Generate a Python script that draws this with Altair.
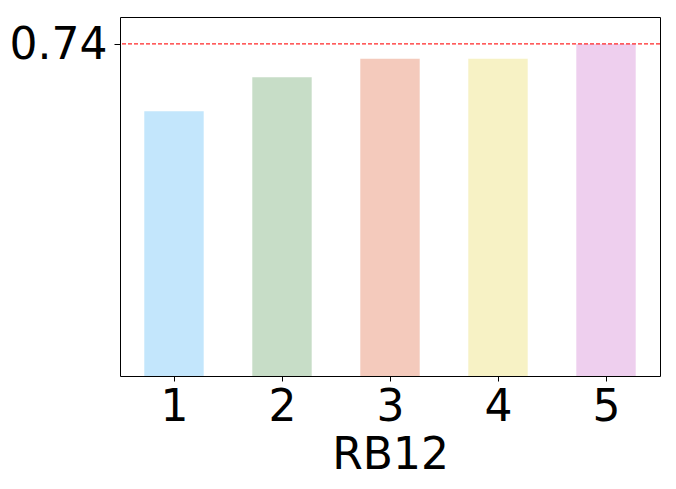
import altair as alt
import pandas as pd

categories = [1, 2, 3, 4, 5]
values = [0.590, 0.666, 0.707, 0.707, 0.740]
colors = ["#87CEFA", "#8FBC8F", "#E9967A", "#F0E68C", "#DDA0DD"]
ref_value = 0.74
bar_width = 0.55

df = pd.DataFrame({"cat": categories, "val": values, "color": colors})
ref_df = pd.DataFrame({"ref": [ref_value]})

FONT = "DejaVu Sans"
FS = 44

xscale = alt.Scale(domain=[0.5, 5.5], nice=False, zero=False)
yscale = alt.Scale(domain=[0, 0.8], nice=False)

bars = alt.Chart(df).transform_calculate(
    x_lo=f"datum.cat - {bar_width/2}",
    x_hi=f"datum.cat + {bar_width/2}",
).mark_bar(opacity=0.5).encode(
    x=alt.X("x_lo:Q", scale=xscale,
            axis=alt.Axis(title="RB12", values=categories, format="d",
                          labelFontSize=FS, titleFontSize=FS,
                          labelFont=FONT, titleFont=FONT,
                          labelColor="black", titleColor="black",
                          titleFontWeight="normal",
                          tickColor="black", tickSize=5, tickWidth=1,
                          domain=False, grid=False, labelPadding=4,
                          titlePadding=4)),
    x2="x_hi:Q",
    y=alt.Y("val:Q", scale=yscale,
            axis=alt.Axis(title=None, values=[ref_value], format=".2f",
                          labelFontSize=FS, labelFont=FONT, labelColor="black",
                          tickColor="black", tickSize=6, tickWidth=1,
                          domain=False, grid=False, labelPadding=7,
                          labelOffset=2)),
    y2=alt.datum(0),
    fill=alt.Fill("color:N", scale=None),
)

rule = alt.Chart(ref_df).mark_rule(color="red", strokeDash=[4, 2], strokeWidth=1.2, opacity=0.85).encode(
    y=alt.Y("ref:Q", scale=yscale)
)

chart = alt.layer(bars, rule).properties(
    width=540,
    height=359,
    autosize=alt.AutoSizeParams(type="none"),
    padding={"left": 112, "top": 9, "right": 8, "bottom": 105},
    background="white",
).configure_view(
    stroke="black", strokeWidth=1
)

chart.save("out.html", embed_options={"renderer": "svg", "actions": False})
